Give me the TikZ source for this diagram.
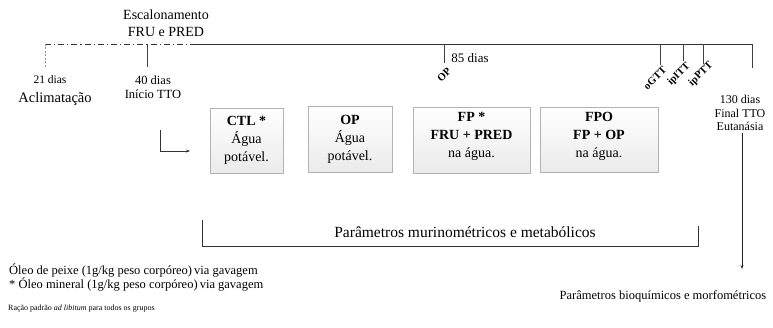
\documentclass[tikz,border=0pt]{standalone}
\usepackage{fontspec}
\setmainfont{Liberation Serif}
\usetikzlibrary{shadows,arrows.meta}

\begin{document}
\begin{tikzpicture}[x=1pt,y=-1pt,
  line/.style={draw=black!80,line width=0.9pt},
  tick/.style={draw=black!75,line width=0.8pt},
  lbl/.style={inner sep=0pt,align=center,font=\fontsize{12}{13.5}\selectfont},
  biglbl/.style={inner sep=0pt,align=center,font=\fontsize{14.5}{17}\selectfont},
  rotlbl/.style={inner sep=0pt,rotate=45,font=\fontsize{10.5}{10.5}\selectfont\bfseries},
  group/.style={draw=black!30,line width=0.8pt,top color=white,bottom color=black!8,
    drop shadow={shadow xshift=1.2pt,shadow yshift=-1.2pt,opacity=0.35},
    align=center,inner sep=2pt,font=\fontsize{14}{18}\selectfont},
  note/.style={inner sep=0pt,anchor=west,font=\fontsize{12.5}{13}\selectfont}]
\useasboundingbox (0,0) rectangle (773,328);

% timeline
\coordinate (t0) at (45,44);
\coordinate (t1) at (147,44);
\coordinate (tdash) at (190,44);
\coordinate (t2) at (444,44);
\coordinate (t3) at (660,44);
\coordinate (t4) at (683,44);
\coordinate (t5) at (703,44);
\coordinate (t6) at (752,44);
\draw[line,dash pattern=on 6pt off 3pt on 1.2pt off 3pt] (t0) -- (tdash);
\draw[line] (tdash) -- (t6);

% tick marks
\draw[draw=black!40,line width=0.6pt,dash pattern=on 2pt off 1.5pt] (t0) -- ++(0,23);
\draw[tick] (t1) -- ++(0,23);
\draw[tick] (t2) -- ++(0,19);
\draw[tick] (t3) -- ++(0,21);
\draw[tick] (t4) -- ++(0,17);
\draw[tick] (t5) -- ++(0,20);
\draw[tick] (t6) -- ++(0,24);

% labels above and below the timeline
\node[biglbl,font=\fontsize{14}{16.5}\selectfont] (esc) at (166,23) {Escalonamento\\FRU e PRED};
\node[lbl,font=\fontsize{11.5}{13}\selectfont] (d21) at (50,80) {21 dias};
\node[biglbl] (acl) at (55,99) {Aclimatação};
\node[lbl,font=\fontsize{12.5}{13.5}\selectfont] (d40) at (153,87) {40 dias\\Início TTO};
\node[lbl,font=\fontsize{13}{14}\selectfont] (d85) at (470,58) {85 dias};
\node[rotlbl] (op) at (444,75) {OP};
\node[rotlbl] (ogtt) at (655,78) {oGTT};
\node[rotlbl] (iptt) at (679,74) {ipITT};
\node[rotlbl] (ipptt) at (701,74) {ipPTT};
\node[lbl] (fim) at (740,113) {130 dias\\Final TTO\\Eutanásia};

% treatment groups
\node[group,minimum width=73pt,minimum height=65pt] (ctl) at (246.5,140.5)
  {\textbf{CTL *}\\Água\\potável.};
\node[group,minimum width=84pt,minimum height=66pt] (opg) at (350,139)
  {\textbf{OP}\\Água\\potável.};
\node[group,minimum width=117pt,minimum height=66pt,text depth=10pt] (fp) at (471.5,140)
  {\textbf{FP *}\\\textbf{FRU + PRED}\\na água.};
\node[group,minimum width=118pt,minimum height=65pt,text depth=10pt] (fpo) at (599,139.5)
  {\textbf{FPO}\\\textbf{FP + OP}\\na água.};

% start of treatment arrow
\coordinate (a0) at (160,130);
\coordinate (a1) at (190,151);
\draw[line width=0.7pt,draw=black!80,-{Stealth[length=4pt,width=3pt]}] (a0) |- (a1);

% bracket of murinometric parameters
\node[biglbl,font=\fontsize{15.5}{17}\selectfont] (mur) at (465,232) {Parâmetros murinométricos e metabólicos};
\coordinate (b0) at (202,220);
\coordinate (b1) at (698,226);
\draw[line] (b0) -- (b0 |- 0,246) -- (b1 |- 0,246) -- (b1);

% final arrow
\node[biglbl,font=\fontsize{12.5}{14}\selectfont] (bio) at (663,296) {Parâmetros bioquímicos e morfométricos};
\coordinate (a2) at (742,269);
\draw[line width=0.8pt,draw=black!85,-{Stealth[length=4pt,width=3pt]}] (742,133) -- (a2);

% notes
\node[note] (n1) at (9,270) {Óleo de peixe (1g/kg peso corpóreo)\,via gavagem};
\node[note] (n2) at (9,284) {* Óleo mineral (1g/kg peso corpóreo)\,via gavagem};
\node[note,font=\fontsize{8}{10}\selectfont] (n3) at (8,309) {Ração padrão \textit{ad libitum} para todos os grupos};
\end{tikzpicture}
\end{document}
